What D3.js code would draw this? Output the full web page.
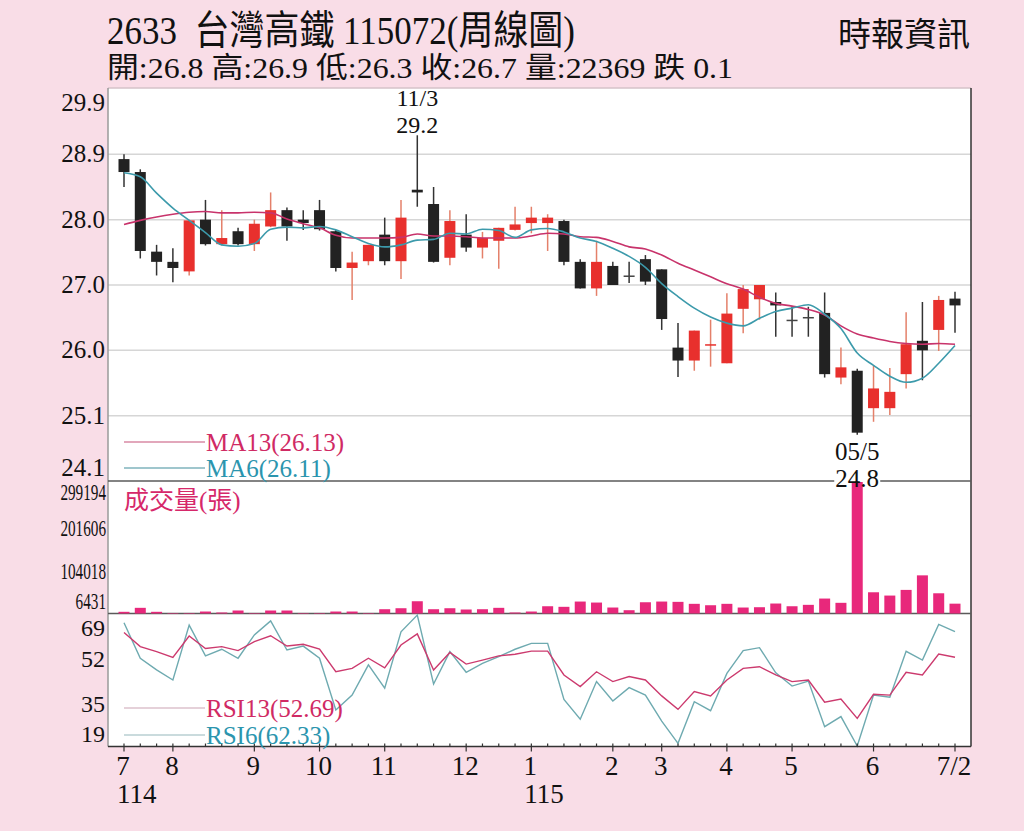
<!DOCTYPE html>
<html>
<head>
<meta charset="utf-8">
<script src="https://cdn.jsdelivr.net/npm/d3@7"></script>
<style>
  body { margin: 0; background: #f9dde7; }
  svg { display: block; }
</style>
</head>
<body>
<div id="chart"></div>
<script>
const opens  = [28.85, 28.66, 27.49, 27.34, 27.20, 27.96, 27.60, 27.79, 27.60, 27.86, 28.10, 27.96, 28.10,
                27.79, 27.25, 27.35, 27.74, 27.35, 28.40, 28.19, 27.40, 27.74, 27.55, 27.65, 27.81, 27.91,
                27.91, 27.94, 27.34, 26.95, 27.28, 27.14, 27.38, 27.23, 26.08, 25.89, 26.11, 25.85, 26.65,
                26.79, 26.75, 26.49, 26.53, 26.59, 25.64, 25.74, 25.19, 25.19, 25.69, 26.18, 26.34, 26.8];
const highs  = [28.92, 28.70, 27.59, 27.54, 27.96, 28.25, 28.10, 27.84, 27.96, 28.36, 28.14, 28.10, 28.25,
                27.81, 27.49, 27.59, 27.99, 28.25, 29.20, 28.44, 28.10, 28.04, 27.78, 27.84, 28.15, 28.15,
                28.04, 27.96, 27.38, 27.65, 27.34, 27.34, 27.44, 27.23, 26.44, 26.33, 26.49, 26.88, 27.00,
                27.00, 26.89, 26.68, 26.68, 26.89, 26.08, 25.77, 25.82, 25.78, 26.60, 26.75, 26.84, 26.9];
const lows   = [28.44, 27.39, 27.14, 27.04, 27.14, 27.58, 27.58, 27.58, 27.50, 27.85, 27.65, 27.81, 27.80,
                27.20, 26.78, 27.29, 27.29, 27.09, 28.15, 27.33, 27.29, 27.49, 27.39, 27.24, 27.80, 27.76,
                27.50, 27.29, 26.95, 26.84, 27.00, 27.03, 27.00, 26.34, 25.65, 25.74, 25.80, 25.85, 26.29,
                26.49, 26.24, 26.24, 26.24, 25.64, 25.54, 24.80, 24.99, 25.09, 25.48, 25.60, 26.03, 26.3];
const closes = [28.66, 27.50, 27.34, 27.25, 27.95, 27.60, 27.69, 27.60, 27.90, 28.10, 27.86, 27.91, 27.82,
                27.25, 27.33, 27.59, 27.35, 27.99, 28.36, 27.34, 27.94, 27.55, 27.69, 27.84, 27.89, 27.99,
                27.99, 27.34, 26.95, 27.34, 27.00, 27.14, 27.05, 26.50, 25.89, 26.33, 26.13, 26.58, 26.94,
                27.00, 26.70, 26.49, 26.53, 25.69, 25.79, 24.83, 25.48, 25.43, 26.13, 26.04, 26.78, 26.7];

const ma13 = [27.89, 27.95, 28.00, 28.04, 28.07, 28.08, 28.06, 28.06, 28.07, 28.06, 27.97, 27.90, 27.84,
              27.73, 27.69, 27.69, 27.69, 27.70, 27.75, 27.72, 27.72, 27.71, 27.69, 27.69, 27.69, 27.72,
              27.76, 27.75, 27.71, 27.70, 27.64, 27.56, 27.53, 27.44, 27.32, 27.22, 27.12, 27.02, 26.94,
              26.82, 26.73, 26.69, 26.64, 26.56, 26.40, 26.28, 26.22, 26.17, 26.14, 26.13, 26.14, 26.13];
const ma6 = [28.65, 28.59, 28.35, 28.13, 27.95, 27.77, 27.59, 27.57, 27.61, 27.82, 27.85, 27.84, 27.86,
             27.81, 27.71, 27.61, 27.56, 27.59, 27.66, 27.67, 27.76, 27.75, 27.82, 27.80, 27.70, 27.81,
             27.83, 27.78, 27.69, 27.64, 27.54, 27.42, 27.26, 27.02, 26.83, 26.66, 26.53, 26.44, 26.40,
             26.51, 26.61, 26.66, 26.71, 26.57, 26.36, 26.00, 25.82, 25.66, 25.57, 25.63, 25.85, 26.11];

const volumes = [3850, 12900, 3850, 1100, 1100, 4500, 2300, 6800, 1100, 6800, 6800, 1100, 1100,
                 4500, 4500, 1100, 9750, 12000, 27900, 9750, 12000, 9100, 9750, 12900, 2300, 4500,
                 16500, 15200, 27200, 24900, 13600, 7500, 25600, 27200, 26500, 22000, 18800, 22000, 13600,
                 14300, 22700, 16500, 19700, 34000, 24300, 299194, 48300, 40800, 53700, 86800, 46000, 22369];

const rsi13 = [62.0, 56.7, 54.8, 52.6, 60.7, 56.0, 56.7, 55.2, 58.6, 60.8, 56.9, 57.6, 55.8,
               47.2, 48.5, 52.3, 48.7, 57.3, 61.5, 47.9, 54.5, 50.1, 51.6, 53.2, 53.8, 55.0,
               55.0, 46.0, 41.6, 47.2, 43.5, 45.4, 44.1, 38.1, 33.0, 39.7, 38.1, 44.1, 48.5,
               49.1, 46.0, 43.5, 44.1, 35.7, 36.9, 29.6, 38.7, 38.4, 47.0, 46.0, 53.9, 52.69];
const rsi6 = [65.7, 52.3, 47.9, 44.1, 64.8, 53.2, 55.7, 52.3, 61.1, 66.4, 55.4, 56.9, 52.3,
              32.8, 38.4, 49.8, 41.0, 62.3, 68.6, 42.6, 54.8, 47.0, 50.4, 52.9, 55.7, 57.9,
              57.9, 36.8, 29.3, 43.5, 36.2, 41.2, 38.4, 28.6, 20.2, 35.9, 32.5, 46.6, 55.2,
              56.3, 46.8, 41.8, 43.7, 26.5, 30.3, 19.2, 38.4, 37.6, 54.9, 51.6, 65.1, 62.33];

const priceTicks = [29.88, 28.92, 27.96, 27.0, 26.04, 25.08, 24.12];
const priceTickLabels = ['29.9', '28.9', '28.0', '27.0', '26.0', '25.1', '24.1'];
const volumeTicks = [299194, 201606, 104018, 6431];
const rsiTicks = [69, 52, 35, 19];

const monthLabels = ['7', '8', '9', '10', '11', '12', '1', '2', '3', '4', '5', '6', '7/2'];
const monthAt = [0, 3, 8, 12, 16, 21, 25, 30, 33, 37, 41, 46, 51];
const yearLabels = ['114', '115'];
const yearAt = [0, 25];

const width = 1024, height = 831;
const left = 108, right = 971;
const priceTop = 88, priceBottom = 481, volBottom = 613.5, rsiBottom = 746.5;

const serif = "'Liberation Serif','Times New Roman','Noto Sans CJK TC',serif";
const upColor = '#e8302d', downColor = '#222';
const maPink = '#c8336b', maTeal = '#3c9aab';

const svg = d3.select('#chart')
    .append('svg')
    .attr('width', width)
    .attr('height', height);

svg.append('rect')
    .attr('width', width)
    .attr('height', height)
    .attr('fill', '#f9dde7');

svg.append('rect')
    .attr('x', left)
    .attr('y', priceTop)
    .attr('width', right - left)
    .attr('height', rsiBottom - priceTop)
    .attr('fill', '#fff');

const x = d3.scaleLinear()
    .domain([0, opens.length - 1])
    .range([124, 955]);

const y = d3.scaleLinear()
    .domain([24.12, 29.88])
    .range([priceBottom, priceTop + 1]);

const vy = d3.scaleLinear()
    .domain([0, 299194])
    .range([volBottom, priceBottom + 1]);

const ry = d3.scaleLinear()
    .domain([19, 69])
    .range([rsiBottom, volBottom + 0.5]);

// grid
svg.append('g')
    .selectAll('line')
    .data(priceTicks.slice(1, -1))
    .enter().append('line')
    .attr('x1', left)
    .attr('x2', right)
    .attr('y1', d => y(d))
    .attr('y2', d => y(d))
    .attr('stroke', '#d6d6d6')
    .attr('stroke-width', 1.5);

// frame
svg.append('line')
    .attr('x1', left).attr('x2', right)
    .attr('y1', priceTop).attr('y2', priceTop)
    .attr('stroke', '#d4c2c9').attr('stroke-width', 1.5);
svg.append('line')
    .attr('x1', left).attr('x2', left)
    .attr('y1', priceTop).attr('y2', rsiBottom)
    .attr('stroke', '#9a9a9a').attr('stroke-width', 1.5);
svg.append('line')
    .attr('x1', right).attr('x2', right)
    .attr('y1', priceTop).attr('y2', rsiBottom)
    .attr('stroke', '#333').attr('stroke-width', 1.5);
[priceBottom, volBottom].forEach(v => {
    svg.append('line')
        .attr('x1', left).attr('x2', right)
        .attr('y1', v).attr('y2', v)
        .attr('stroke', '#5a5a5a').attr('stroke-width', 1.5);
});

// white box behind the low annotation
const lowIdx = lows.indexOf(d3.min(lows));
svg.append('rect')
    .attr('x', x(lowIdx) - 23)
    .attr('y', 467)
    .attr('width', 46)
    .attr('height', 17)
    .attr('fill', '#fff');

// candles
const bodyW = 11;
const candles = svg.append('g')
    .selectAll('g')
    .data(d3.range(opens.length))
    .enter().append('g');

candles.append('line')
    .attr('x1', i => x(i))
    .attr('x2', i => x(i))
    .attr('y1', i => y(highs[i]))
    .attr('y2', i => y(lows[i]))
    .attr('stroke', i => closes[i] > opens[i] ? '#e4806a' : '#333')
    .attr('stroke-width', 1.5);

candles.append('rect')
    .attr('x', i => x(i) - bodyW / 2)
    .attr('y', i => y(Math.max(opens[i], closes[i])))
    .attr('width', bodyW)
    .attr('height', i => Math.max(1.5, Math.abs(y(opens[i]) - y(closes[i]))))
    .attr('fill', i => closes[i] > opens[i] ? upColor : (closes[i] === opens[i] ? '#444' : downColor));

// moving averages
const maLine = d3.line()
    .x((d, i) => x(i))
    .y(d => y(d))
    .curve(d3.curveMonotoneX);

svg.append('path')
    .attr('d', maLine(ma13))
    .attr('fill', 'none')
    .attr('stroke', maPink)
    .attr('stroke-width', 1.6);

svg.append('path')
    .attr('d', maLine(ma6))
    .attr('fill', 'none')
    .attr('stroke', maTeal)
    .attr('stroke-width', 1.6);

// volume
svg.append('g')
    .selectAll('rect')
    .data(volumes)
    .enter().append('rect')
    .attr('x', (d, i) => x(i) - 5.5)
    .attr('y', d => vy(d))
    .attr('width', 11)
    .attr('height', d => volBottom - vy(d))
    .attr('fill', '#e8287b');

// rsi
const rsiLine = d3.line()
    .x((d, i) => x(i))
    .y(d => ry(d));

svg.append('path')
    .attr('d', rsiLine(rsi6))
    .attr('fill', 'none')
    .attr('stroke', '#6eaab0')
    .attr('stroke-width', 1.4);

svg.append('path')
    .attr('d', rsiLine(rsi13))
    .attr('fill', 'none')
    .attr('stroke', '#cc3a6e')
    .attr('stroke-width', 1.4);

// bottom axis
svg.append('line')
    .attr('x1', left).attr('x2', right)
    .attr('y1', rsiBottom).attr('y2', rsiBottom)
    .attr('stroke', '#333').attr('stroke-width', 1.5);

svg.append('g')
    .selectAll('line')
    .data(d3.range(opens.length))
    .enter().append('line')
    .attr('x1', i => x(i))
    .attr('x2', i => x(i))
    .attr('y1', rsiBottom - 3)
    .attr('y2', i => monthAt.includes(i) ? rsiBottom + 5 : rsiBottom)
    .attr('stroke', '#333')
    .attr('stroke-width', 1.2);

const text = (str, tx, ty, size, opts = {}) => {
    const t = svg.append('text')
        .attr('x', tx)
        .attr('y', ty)
        .attr('font-family', serif)
        .attr('font-size', size)
        .attr('fill', opts.color || '#111')
        .attr('text-anchor', opts.anchor || 'start')
        .style('white-space', 'pre')
        .text(str);
    if (opts.len) {
        t.attr('textLength', opts.len).attr('lengthAdjust', 'spacingAndGlyphs');
    }
    return t;
};

// header
text('2633  台灣高鐵 115072(周線圖)', 107, 44, 40, { len: 468 });
text('開:26.8 高:26.9 低:26.3 收:26.7 量:22369 跌 0.1', 107, 78, 29, { len: 626 });
text('時報資訊', 838, 46, 33, { len: 132 });

// axis labels
priceTicks.forEach((v, i) => {
    const cy = Math.min(468, Math.max(103, y(v)));
    text(priceTickLabels[i], 105, cy + 8, 25, { anchor: 'end' });
});

volumeTicks.forEach(v => {
    const cy = Math.min(601, Math.max(492, vy(v) + 3.5));
    const s = String(v);
    const len = s.length * 7.6;
    text(s, 106 - len, cy + 8, 24, { len: len });
});

rsiTicks.forEach(v => {
    const cy = Math.min(734, Math.max(628, ry(v)));
    text(String(v), 105, cy + 8, 24, { anchor: 'end' });
});

monthLabels.forEach((m, i) => {
    text(m, x(monthAt[i]) - 1, 775, 27, { anchor: 'middle' });
});
yearLabels.forEach((yl, i) => {
    text(yl, x(yearAt[i]) - 7, 803, 27);
});

// high / low annotations
const highIdx = highs.indexOf(d3.max(highs));
text('11/3', x(highIdx), 106, 24, { anchor: 'middle' });
text(d3.format('.1f')(highs[highIdx]), x(highIdx), 133, 24, { anchor: 'middle' });
text('05/5', x(lowIdx), 460, 25, { anchor: 'middle' });
text(d3.format('.1f')(lows[lowIdx]), x(lowIdx), 487, 25, { anchor: 'middle' });

// legends
const legend = (label, ly, lineColor, textColor) => {
    svg.append('line')
        .attr('x1', 124).attr('x2', 205)
        .attr('y1', ly).attr('y2', ly)
        .attr('stroke', lineColor)
        .attr('stroke-width', 1.3);
    text(label, 206, ly + 8.5, 25, { color: textColor });
};
legend('MA13(26.13)', 442, '#d88aa5', '#d02a64');
legend('MA6(26.11)', 468, '#7fb3bd', '#2b95ae');
legend('RSI13(52.69)', 708, '#dcc2cc', '#d02a64');
legend('RSI6(62.33)', 735, '#b8cfd2', '#2b95ae');

text('成交量(張)', 124, 509, 25, { color: '#d6286a' });
</script>
</body>
</html>
